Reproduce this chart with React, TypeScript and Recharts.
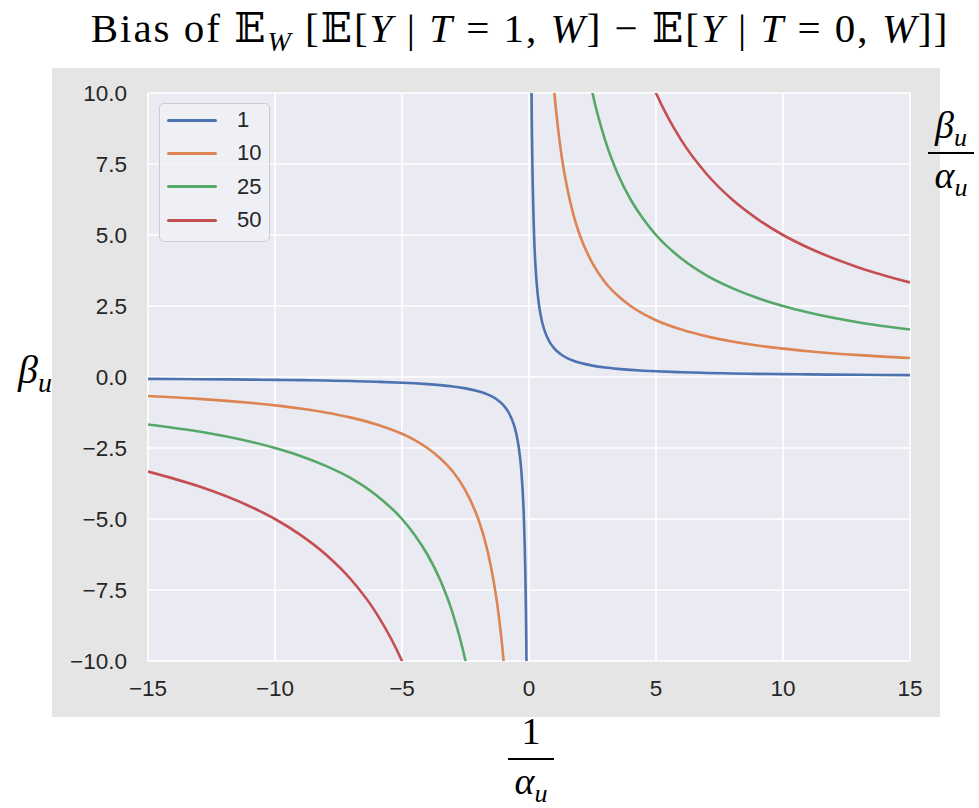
import { CartesianGrid, Line, LineChart, XAxis, YAxis } from "recharts";

// x positions sampled along 1/alpha_u (null row at 0 splits the two branches)
const xs = [
  -15, -13, -11, -10, -9, -8, -7, -6, -5, -4.5, -4, -3.5, -3, -2.5, -2, -1.75, -1.5, -1.25, -1, -0.8, -0.6, -0.5, -0.4, -0.3, -0.2, -0.15, -0.1, -0.07,
  0,
  0.07, 0.1, 0.15, 0.2, 0.3, 0.4, 0.5, 0.6, 0.8, 1, 1.25, 1.5, 1.75, 2, 2.5, 3, 3.5, 4, 4.5, 5, 6, 7, 8, 9, 10, 11, 13, 15,
];

const bias1 = [
  -0.067, -0.077, -0.091, -0.1, -0.111, -0.125, -0.143, -0.167, -0.2, -0.222, -0.25, -0.286, -0.333, -0.4, -0.5, -0.571, -0.667, -0.8, -1, -1.25, -1.67, -2, -2.5, -3.33, -5, -6.67, -10, -14.3,
  null,
  14.3, 10, 6.67, 5, 3.33, 2.5, 2, 1.67, 1.25, 1, 0.8, 0.667, 0.571, 0.5, 0.4, 0.333, 0.286, 0.25, 0.222, 0.2, 0.167, 0.143, 0.125, 0.111, 0.1, 0.091, 0.077, 0.067,
];
const bias10 = [
  -0.667, -0.769, -0.909, -1, -1.11, -1.25, -1.43, -1.67, -2, -2.22, -2.5, -2.86, -3.33, -4, -5, -5.71, -6.67, -8, -10, -12.5, -16.7, -20, -25, -33.3, -50, -66.7, -100, -143,
  null,
  143, 100, 66.7, 50, 33.3, 25, 20, 16.7, 12.5, 10, 8, 6.67, 5.71, 5, 4, 3.33, 2.86, 2.5, 2.22, 2, 1.67, 1.43, 1.25, 1.11, 1, 0.909, 0.769, 0.667,
];
const bias25 = [
  -1.67, -1.92, -2.27, -2.5, -2.78, -3.13, -3.57, -4.17, -5, -5.56, -6.25, -7.14, -8.33, -10, -12.5, -14.3, -16.7, -20, -25, -31.3, -41.7, -50, -62.5, -83.3, -125, -167, -250, -357,
  null,
  357, 250, 167, 125, 83.3, 62.5, 50, 41.7, 31.3, 25, 20, 16.7, 14.3, 12.5, 10, 8.33, 7.14, 6.25, 5.56, 5, 4.17, 3.57, 3.13, 2.78, 2.5, 2.27, 1.92, 1.67,
];
const bias50 = [
  -3.33, -3.85, -4.55, -5, -5.56, -6.25, -7.14, -8.33, -10, -11.1, -12.5, -14.3, -16.7, -20, -25, -28.6, -33.3, -40, -50, -62.5, -83.3, -100, -125, -167, -250, -333, -500, -714,
  null,
  714, 500, 333, 250, 167, 125, 100, 83.3, 62.5, 50, 40, 33.3, 28.6, 25, 20, 16.7, 14.3, 12.5, 11.1, 10, 8.33, 7.14, 6.25, 5.56, 5, 4.55, 3.85, 3.33,
];

const seriesNames = ["1", "10", "25", "50"];
const seriesKeys = ["s1", "s10", "s25", "s50"];
const colors = ["#4c72b0", "#dd8452", "#55a868", "#c44e52"];

const xTicks = [-15, -10, -5, 0, 5, 10, 15];
const yTicks = [-10, -7.5, -5, -2.5, 0, 2.5, 5, 7.5, 10];

const data = xs.map((x, i) => ({ x, s1: bias1[i], s10: bias10[i], s25: bias25[i], s50: bias50[i] }));

const minus = (s: string) => s.replace("-", "\u2212");
const sans = "Liberation Sans, Arial, sans-serif";
const tickStyle = { fill: "#262626", fontSize: 22.5, fontFamily: sans };
const serif = "'Liberation Serif', 'DejaVu Serif', serif";
const subStyle = { fontSize: 26, verticalAlign: "-0.3em", lineHeight: 0 };

const Frac = ({ left, top, num }: { left: number; top: number; num: any }) => (
  <div style={{ position: "absolute", left, top, width: 52, fontFamily: serif, fontSize: 38, textAlign: "center", lineHeight: "34px" }}>
    <div>{num}</div>
    <div style={{ borderTop: "2px solid #000", margin: "10px 3px 4px 3px" }} />
    <div><i>α</i><span style={subStyle}><i>u</i></span></div>
  </div>
);

export default function App() {
  return (
    <div style={{ position: "absolute", left: 0, top: 0, width: 979, height: 808, background: "#fff", overflow: "hidden" }}>
      <div style={{ position: "absolute", left: 52, top: 68, width: 888, height: 649, background: "#e5e5e5" }} />
      <div style={{ position: "absolute", left: 0, top: 4, width: 1040, textAlign: "center", fontFamily: serif, fontSize: 41, letterSpacing: 2, color: "#000", whiteSpace: "nowrap" }}>
        Bias of 𝔼<sub style={{ fontSize: 28 }}><i>W</i></sub> [𝔼[<i>Y</i> | <i>T</i> = 1, <i>W</i>] − 𝔼[<i>Y</i> | <i>T</i> = 0, <i>W</i>]]
      </div>
      <div style={{ position: "absolute", left: 18, top: 346, fontFamily: serif, fontSize: 40 }}>
        <i>β</i><sub style={{ fontSize: 28 }}><i>u</i></sub>
      </div>
      <Frac left={925} top={108} num={<span><i>β</i><span style={subStyle}><i>u</i></span></span>} />
      <Frac left={505} top={714} num="1" />
      <div style={{ position: "absolute", left: 0, top: 0 }}>
        <LineChart width={979} height={808} data={data} margin={{ top: 93, right: 69, bottom: 117, left: 88 }}>
          <CartesianGrid fill="#eaeaf2" stroke="#ffffff" strokeWidth={1.6} horizontalValues={yTicks} verticalValues={xTicks} />
          <XAxis type="number" dataKey="x" domain={[-15, 15]} ticks={xTicks} allowDataOverflow axisLine={false} tickLine={false} tickSize={0} tickMargin={19} height={30} interval={0} tick={tickStyle} tickFormatter={(v) => minus(String(v))} />
          <YAxis type="number" domain={[-10, 10]} ticks={yTicks} allowDataOverflow axisLine={false} tickLine={false} tickSize={0} tickMargin={21} width={60} interval={0} tick={tickStyle} tickFormatter={(v) => minus(Number(v).toFixed(1))} />
          {seriesKeys.map((k, i) => (
            <Line key={k} type="monotone" dataKey={k} name={seriesNames[i]} stroke={colors[i]} strokeWidth={2.6} dot={false} connectNulls={false} isAnimationActive={false} />
          ))}
        </LineChart>
      </div>
      <div style={{ position: "absolute", left: 159, top: 103, width: 111, height: 139, boxSizing: "border-box", background: "rgba(240,240,246,0.8)", border: "1.5px solid #cccccc", borderRadius: 5, fontFamily: sans, fontSize: 22, color: "#262626" }}>
        {seriesNames.map((n, i) => (
          <div key={n} style={{ position: "absolute", left: 7, top: 3 + i * 33.4, height: 26, display: "flex", alignItems: "center" }}>
            <div style={{ width: 50, height: 3, background: colors[i], borderRadius: 2 }} />
            <span style={{ marginLeft: 20 }}>{n}</span>
          </div>
        ))}
      </div>
    </div>
  );
}
